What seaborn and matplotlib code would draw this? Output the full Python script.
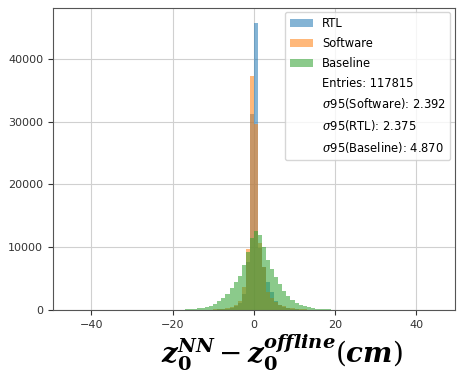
import numpy as np
import pandas as pd
import matplotlib
matplotlib.use("Agg")
import matplotlib.pyplot as plt
import seaborn as sns
from matplotlib.patches import Patch

# bin-kanter (bredde 1) fra -25 til 25
BIN_LEFT = list(range(-25, 25))

rtl_counts = [5, 6, 7, 8, 9, 10, 12, 14, 16, 18, 20, 24, 28, 34, 44,
              60, 90, 140, 220, 350, 600, 1100, 2600, 7600, 31200,
              45800, 9800, 6800, 4400, 2800, 1500, 800, 450, 260, 160, 100,
              70, 52, 40, 32, 26, 21, 17, 14, 12, 10, 8, 7, 6, 5]

software_counts = [8, 9, 10, 12, 14, 16, 18, 22, 26, 30, 36, 42, 50, 60, 70,
                   80, 120, 190, 300, 480, 800, 1500, 3600, 9700, 37300,
                   29600, 10600, 6900, 2900, 1900, 1300, 850, 560, 370, 240, 160,
                   110, 80, 60, 45, 35, 28, 22, 18, 15, 12, 10, 8, 7, 6]

baseline_counts = [8, 11, 15, 20, 27, 36, 50, 70, 100, 135, 190, 260, 360, 500, 700,
                   970, 1350, 1870, 2600, 3500, 4400, 5400, 7100, 9200, 11400,
                   12600, 12000, 10000, 7900, 6600, 5300, 4200, 3100, 2250, 1620,
                   1170, 840, 600, 430, 310, 220, 160, 115, 80, 58, 42, 30, 21, 15, 10]

series_names = ["RTL", "Software", "Baseline"]
series_colors = ["#1f77b4", "#ff7f0e", "#2ca02c"]
extra_labels = ["Entries: 117815",
                r"$\sigma$95(Software): 2.392",
                r"$\sigma$95(RTL): 2.375",
                r"$\sigma$95(Baseline): 4.870"]

x_ticks = [-40, -20, 0, 20, 40]
y_ticks = [0, 10000, 20000, 30000, 40000]

# lang tabel til seaborn
rows = []
for name, counts in zip(series_names, [rtl_counts, software_counts, baseline_counts]):
    for left, c in zip(BIN_LEFT, counts):
        rows.append({"z": left + 0.5, "count": c, "label": name})
df = pd.DataFrame(rows)

plt.rcParams["mathtext.fontset"] = "dejavuserif"

fig = plt.figure(figsize=(4.6, 3.78), dpi=100)
ax = fig.add_axes([0.115, 0.18, 0.874, 0.80])

# seaborn tegner sidste hue først -> vend rækkefølgen så Baseline ligger øverst
sns.histplot(data=df, x="z", weights="count", hue="label", hue_order=series_names[::-1],
             palette=series_colors[::-1], binwidth=1,
             binrange=(BIN_LEFT[0], BIN_LEFT[-1] + 1),
             multiple="layer", alpha=0.55, linewidth=0, ax=ax, legend=False)

ax.set_xlim(-49.5, 49.5)
ax.set_ylim(0, 48200)
ax.set_xticks(x_ticks)
ax.set_yticks(y_ticks)
ax.tick_params(labelsize=8, colors="#333333")
for s in ax.spines.values():
    s.set_color("#555555")
ax.grid(True, color="#d0d0d0", linewidth=0.8)
ax.set_axisbelow(True)
ax.set_ylabel("")
ax.set_xlabel(r"$\mathbfit{z}_{\mathbf{0}}^{\mathbfit{NN}}-\mathbfit{z}_{\mathbf{0}}^{\mathbfit{offline}}(\mathbfit{cm})$",
              fontsize=20)
ax.xaxis.set_label_coords(0.57, -0.075, transform=ax.transAxes)
ax.xaxis.label.set_va("top")

handles = [Patch(facecolor=c, alpha=0.55, edgecolor="none") for c in series_colors]
handles += [Patch(visible=False) for _ in extra_labels]
ax.legend(handles, series_names + extra_labels, loc="upper right", fontsize=8.3,
          borderaxespad=0.4, labelspacing=0.6)

fig.savefig("out.png", dpi=100)
